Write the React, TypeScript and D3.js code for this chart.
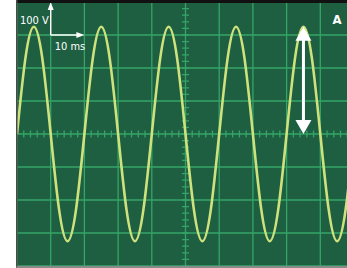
import * as d3 from "d3";

const timeMs = [
  0, 2.5, 5, 7.5, 10, 12.5, 15, 17.5, 20, 22.5, 25, 27.5, 30, 32.5, 35, 37.5,
  40, 42.5, 45, 47.5, 50, 52.5, 55, 57.5, 60, 62.5, 65, 67.5, 70, 72.5, 75,
  77.5, 80, 82.5, 85, 87.5, 90, 92.5, 95, 97.5, 100,
];
const volts = [
  0, 230, 325, 230, 0, -230, -325, -230, 0, 230, 325, 230, 0, -230, -325, -230,
  0, 230, 325, 230, 0, -230, -325, -230, 0, 230, 325, 230, 0, -230, -325, -230,
  0, 230, 325, 230, 0, -230, -325, -230, 0,
];
const timeDivs = [0, 10, 20, 30, 40, 50, 60, 70, 80, 90, 100];
const voltDivs = [-400, -300, -200, -100, 0, 100, 200, 300, 400];
const peakAt = 85; // ms, where the amplitude arrow sits
const peakVolt = 325;

const W = 347;
const H = 268;
const left = 16.5;

export default function App() {
  const x = d3.scaleLinear().domain([0, 100]).range([17, 354]);
  const y = d3.scaleLinear().domain([-400, 400]).range([266, 2]);

  const pts = timeMs.map((t, i) => [t, volts[i]] as [number, number]);
  const line = d3
    .line<[number, number]>()
    .x((d) => x(d[0]))
    .y((d) => y(d[1]))
    .curve(d3.curveNatural);

  const minorT = d3.range(0, 100.01, 2);
  const minorV = d3.range(-400, 400.01, 20);
  const x0 = x(50);
  const y0 = y(0);

  const grid = "#35a467";
  const white = "#ffffff";
  const font = "'Liberation Sans Narrow', 'DejaVu Sans Condensed', Arial, sans-serif";

  // amplitude arrow
  const ax = x(peakAt);
  const aTop = y(peakVolt);
  const aBot = y(0);
  const hw = 8;
  const hh = 14;

  // scale arrows
  const sx = x(10);
  const sy = y(300);

  return (
    <svg
      width={W}
      height={H}
      style={{ position: "absolute", left: 0, top: 0, background: "#fff" }}
    >
      <defs>
        <clipPath id="scr">
          <rect x={left} y={0} width={W - left} height={267} />
        </clipPath>
      </defs>
      <rect x={left} y={0} width={W - left} height={267} fill="#1e5f42" />
      <g clipPath="url(#scr)">
        {timeDivs.map((t) => (
          <line
            key={"vt" + t}
            x1={x(t)}
            x2={x(t)}
            y1={0}
            y2={267}
            stroke={grid}
            strokeWidth={1.3}
          />
        ))}
        {voltDivs.map((v) => (
          <line
            key={"hv" + v}
            x1={left}
            x2={W}
            y1={y(v)}
            y2={y(v)}
            stroke={grid}
            strokeWidth={1.3}
          />
        ))}
        {minorT.map((t) => (
          <line
            key={"mt" + t}
            x1={x(t)}
            x2={x(t)}
            y1={y0 - 3.5}
            y2={y0 + 3.5}
            stroke={grid}
            strokeWidth={1.3}
          />
        ))}
        {minorV.map((v) => (
          <line
            key={"mv" + v}
            x1={x0 - 3.5}
            x2={x0 + 3.5}
            y1={y(v)}
            y2={y(v)}
            stroke={grid}
            strokeWidth={1.3}
          />
        ))}
        <path
          d={line(pts) || ""}
          fill="none"
          stroke="#cde27c"
          strokeWidth={2.6}
        />
        {/* amplitude arrow */}
        <line
          x1={ax}
          x2={ax}
          y1={aTop + hh - 1}
          y2={aBot - hh + 1}
          stroke={white}
          strokeWidth={3}
        />
        <polygon
          points={`${ax},${aTop} ${ax - hw},${aTop + hh} ${ax + hw},${aTop + hh}`}
          fill={white}
        />
        <polygon
          points={`${ax},${aBot} ${ax - hw},${aBot - hh} ${ax + hw},${aBot - hh}`}
          fill={white}
        />
        {/* scale arrows */}
        <line x1={sx} x2={sx} y1={sy} y2={8} stroke={white} strokeWidth={1.4} />
        <polygon
          points={`${sx},${2} ${sx - 3},${10} ${sx + 3},${10}`}
          fill={white}
        />
        <line
          x1={sx}
          x2={x(20) - 6}
          y1={sy}
          y2={sy}
          stroke={white}
          strokeWidth={1.4}
        />
        <polygon
          points={`${x(20)},${sy} ${x(20) - 8},${sy - 3} ${x(20) - 8},${sy + 3}`}
          fill={white}
        />
        <text
          x={sx - 2}
          y={24}
          textAnchor="end"
          fill={white}
          fontFamily={font}
          fontSize={11}
        >
          100 V
        </text>
        <text
          x={sx + 4}
          y={50}
          fill={white}
          fontFamily={font}
          fontSize={11}
        >
          10 ms
        </text>
        <text
          x={337}
          y={24}
          textAnchor="middle"
          fill={white}
          fontFamily={font}
          fontWeight="bold"
          fontSize={13}
        >
          A
        </text>
      </g>
      <rect x={left} y={0} width={W - left} height={3} fill="#111" />
      <rect x={left - 0.5} y={0} width={1.5} height={268} fill="#4a4a4a" />
      <rect x={left} y={266} width={W - left} height={2} fill="#8a8a8a" />
    </svg>
  );
}
